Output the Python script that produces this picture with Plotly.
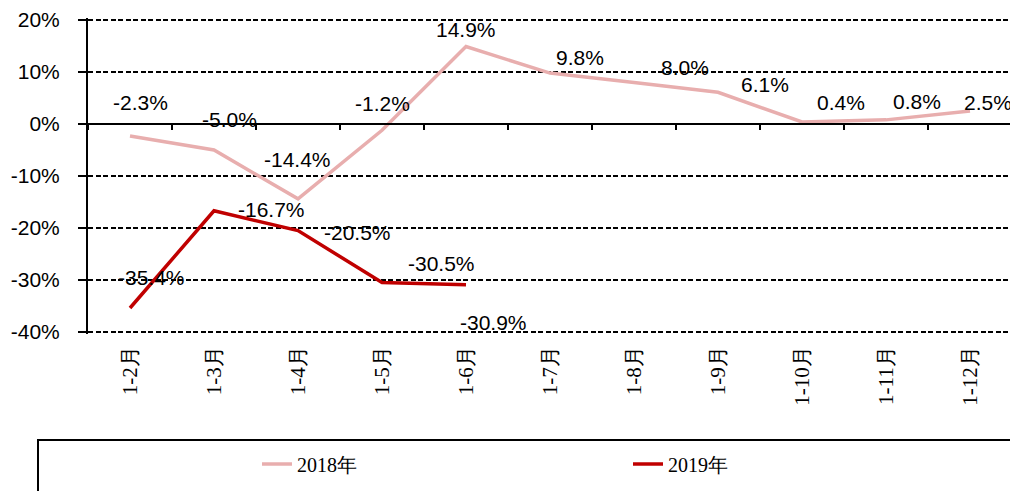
import plotly.graph_objects as go

categories = ["1-2月", "1-3月", "1-4月", "1-5月", "1-6月", "1-7月", "1-8月", "1-9月", "1-10月", "1-11月", "1-12月"]
values_2018 = [-2.3, -5.0, -14.4, -1.2, 14.9, 9.8, 8.0, 6.1, 0.4, 0.8, 2.5]
values_2019 = [-35.4, -16.7, -20.5, -30.5, -30.9]
ytick_vals = [-40, -30, -20, -10, 0, 10, 20]
ytick_text = ["-40%", "-30%", "-20%", "-10%", "0%", "10%", "20%"]

# label offsets in pixels (dx, dy up)
off_2018 = [(10, 33), (15, 31), (-1, 39), (0, 27), (0, 17), (30, 16), (51, 15), (47, 8), (39, 19), (31, 18), (18, 9)]
off_2019 = [(21, 31), (57, 1), (59, -2), (59, 19), (27, -38)]

C18 = "#E8AEAE"
C19 = "#C00000"
SANS = "Liberation Sans, Arial"
SERIF = "Liberation Serif, Times New Roman, serif"
LBL_FONT = dict(family=SANS, size=21, color="black")

# plot area (in figure pixels); y range padded slightly so the edge gridlines are drawn
W, H = 1018, 491
L, R, T, B = 80, 1004, 10, 326
PW, PH = R - L, B - T
YPAD = 0.4
ZERO_FRAC = (0 - (-40 - YPAD)) / (60 + 2 * YPAD)

fig = go.Figure()
fig.add_trace(go.Scatter(x=categories, y=values_2018, mode="lines", name="2018年",
                         line=dict(color=C18, width=3.5)))
fig.add_trace(go.Scatter(x=categories[:len(values_2019)], y=values_2019, mode="lines", name="2019年",
                         line=dict(color=C19, width=3.5)))
# helper trace so the zero-line category axis (ticks at boundaries) is drawn
fig.add_trace(go.Scatter(x=[0], y=[0], xaxis="x2", mode="none", showlegend=False, hoverinfo="skip"))

ann = []
for c, v, (dx, dy) in zip(categories, values_2018, off_2018):
    ann.append(dict(x=c, y=v, text=f"{v:.1f}%", showarrow=False, xshift=dx, yshift=dy, font=LBL_FONT))
for c, v, (dx, dy) in zip(categories, values_2019, off_2019):
    ann.append(dict(x=c, y=v, text=f"{v:.1f}%", showarrow=False, xshift=dx, yshift=dy, font=LBL_FONT))

fig.update_layout(
    width=W, height=H,
    margin=dict(l=L, r=W - R, t=T, b=H - B),
    paper_bgcolor="white", plot_bgcolor="white",
    showlegend=True,
    legend=dict(orientation="h", x=(257 - 88) / PW, xanchor="left", y=(B - 456) / PH, yanchor="middle",
                font=dict(family=SERIF, size=20, color="black"),
                entrywidth=326, bgcolor="rgba(0,0,0,0)"),
    annotations=ann,
    xaxis=dict(type="category", categoryorder="array", categoryarray=categories,
               range=[-0.5, 10.5], showgrid=False, showline=False, zeroline=False,
               tickangle=-90, ticks="", ticklabelstandoff=7, automargin=False,
               tickfont=dict(family=SERIF, size=21, color="black")),
    xaxis2=dict(overlaying="x", anchor="free", position=ZERO_FRAC, range=[-0.5, 10.5],
                tick0=0.5, dtick=1, ticks="outside", ticklen=5, tickwidth=1.5, tickcolor="black",
                showline=True, linecolor="black", linewidth=2, showticklabels=False,
                showgrid=False, zeroline=False, side="bottom", automargin=False),
    yaxis=dict(range=[-40 - YPAD, 20 + YPAD], tickvals=ytick_vals, ticktext=ytick_text,
               showgrid=True, gridcolor="black", griddash="5px,2.5px", gridwidth=1.8,
               zeroline=True, zerolinecolor="black", zerolinewidth=2,
               showline=True, linecolor="black", linewidth=2,
               ticks="outside", ticklen=8, tickwidth=1.5, tickcolor="black",
               ticklabelstandoff=14, automargin=False,
               tickfont=dict(family=SANS, size=21, color="black")),
    shapes=[dict(type="rect", xref="paper", yref="paper",
                 x0=(30 - L) / PW, x1=(1006 - L) / PW,
                 y0=(B - 432) / PH, y1=(B - 500) / PH,
                 line=dict(color="black", width=2), fillcolor="rgba(0,0,0,0)", layer="below")],
)

fig.write_html("out.html")
